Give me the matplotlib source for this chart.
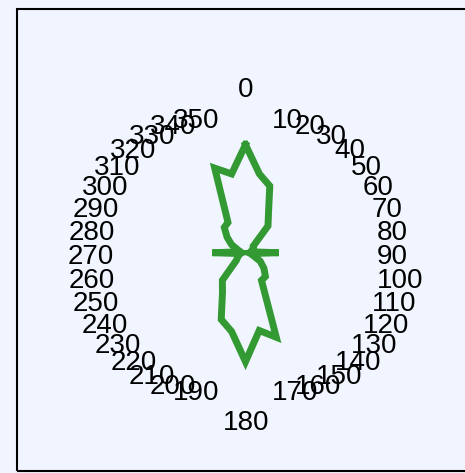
import numpy as np
import matplotlib
matplotlib.use("Agg")
import matplotlib.pyplot as plt
from matplotlib.patches import Rectangle

# Sector directions (degrees, clockwise from north) and the value of each sector
directions = list(range(0, 360, 10))
values = [10.8, 8.0, 7.1, 4.6, 3.5, 1.0, 0.9, 0.7, 0.5, 3.3, 0.5, 0.8,
          1.7, 2.4, 3.1, 3.2, 9.0, 7.9, 10.9, 8.0, 7.1, 4.6, 3.6, 1.2,
          0.9, 0.7, 0.5, 3.3, 0.5, 0.8, 1.6, 2.4, 3.3, 3.5, 9.0, 8.0]
tick_labels = [str(d) for d in directions]

BG = '#f0f5ff'
LINE = '#339933'

W, H = 465, 473
fig = plt.figure(figsize=(W / 100, H / 100), dpi=100, facecolor=BG)

# polar axes centred in the frame
cx, cy, R = 245.5, 252.7, 130.0
ax = fig.add_axes([(cx - R) / W, (H - cy - R) / H, 2 * R / W, 2 * R / H],
                  projection='polar', facecolor=BG)
ax.set_theta_zero_location('N')
ax.set_theta_direction(-1)
ax.set_ylim(0, 13)

theta = np.deg2rad(directions + [directions[0]])
radius = values + [values[0]]
ax.plot(theta, radius, color=LINE, lw=5, solid_joinstyle='miter')

ax.grid(False)
ax.set_yticks([])
ax.set_xticks(np.deg2rad(directions))
ax.set_xticklabels([])
ax.tick_params(axis='x', length=0)
ax.spines['polar'].set_visible(False)

# direction labels: left/right aligned on the sides, centred at north/south
L = 13.8
for d, lab in zip(directions, tick_labels):
    t = np.deg2rad(d)
    s, c = np.sin(t), np.cos(t)
    if abs(s) < 0.1:
        ha, dx, dy = 'center', 0.5, (17.2 if c > 0 else -39.3)
    elif s > 0:
        ha, dx, dy = 'left', -6.5 + 9 * abs(c), -11.3
    else:
        ha, dx, dy = 'right', 6.5 - 9 * abs(c), -11.3
    ax.annotate(lab, xy=(t, L), xytext=(dx, dy), textcoords='offset pixels',
                ha=ha, va='baseline', fontsize=20, family='Liberation Sans',
                color='black', annotation_clip=False)

# outer frame
fig.patches.append(Rectangle((17 / W, 2 / H), 1.0, 462 / H, transform=fig.transFigure,
                             fill=False, ec='black', lw=1.5, clip_on=False))

fig.savefig('out.png', dpi=100, facecolor=BG)
